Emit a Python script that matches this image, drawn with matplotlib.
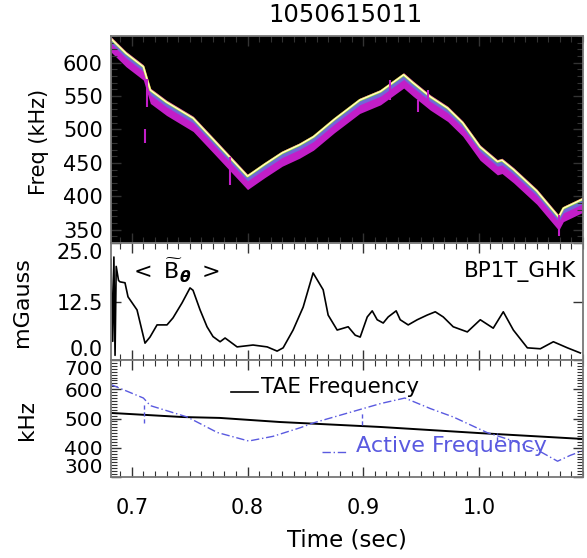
import matplotlib.pyplot as plt
import numpy as np
from matplotlib.ticker import MultipleLocator

plt.rcParams['font.family'] = 'DejaVu Sans'
plt.rcParams['mathtext.fontset'] = 'dejavusans'

shot = '1050615011'

# mode frequency trace seen in the spectrogram (upper edge of the band)
trace_t = [0.682, 0.695, 0.710, 0.716, 0.730, 0.753, 0.772, 0.800, 0.815, 0.830,
           0.845, 0.857, 0.875, 0.897, 0.915, 0.935, 0.943, 0.958, 0.973, 0.986,
           1.001, 1.016, 1.020, 1.030, 1.050, 1.069, 1.073, 1.090]
trace_khz = [636, 614, 594, 559, 541, 517, 482, 430, 448, 465,
             477, 489, 515, 544, 557, 582, 570, 549, 532, 510,
             474, 452, 454, 440, 408, 369, 382, 396]

# isolated streaks in the spectrogram
streak_t = [0.711, 0.713, 0.785, 0.923, 0.947, 0.956, 1.069]
streak_lo = [480, 534, 417, 544, 526, 540, 340]
streak_hi = [500, 575, 459, 574, 544, 559, 372]

# BP1T_GHK fluctuation amplitude
amp_t = [0.682, 0.6835, 0.6845, 0.6855, 0.6865, 0.6885, 0.6898, 0.6941, 0.6967, 0.7045,
         0.7114, 0.7157, 0.7218, 0.7304, 0.7356, 0.7434, 0.7503, 0.7529, 0.759, 0.765,
         0.7702, 0.7763, 0.7806, 0.785, 0.791, 0.8048, 0.817, 0.8256, 0.8308, 0.8394,
         0.8481, 0.8567, 0.8654, 0.8697, 0.8775, 0.887, 0.8931, 0.8974, 0.9035, 0.9078,
         0.9121, 0.9173, 0.9216, 0.9285, 0.932, 0.9389, 0.9467, 0.9553, 0.9623, 0.9692,
         0.9778, 0.990, 1.0012, 1.0124, 1.0211, 1.0298, 1.0419, 1.0531, 1.0644, 1.0765,
         1.0877]
amp_mg = [21.5, 4.0, 22.0, 1.0, 20.0, 17.0, 16.7, 16.5, 13.5, 10.7,
          3.6, 4.9, 7.5, 7.5, 9.0, 12.2, 15.4, 14.9, 10.7, 7.1,
          5.0, 3.9, 4.7, 3.9, 2.8, 3.2, 2.8, 1.9, 2.6, 6.4,
          11.3, 18.6, 15.0, 9.6, 6.4, 7.1, 5.3, 4.9, 9.2, 10.5,
          8.6, 7.9, 9.2, 10.5, 8.6, 7.5, 8.6, 9.6, 10.3, 9.2,
          7.1, 6.0, 8.6, 6.8, 10.3, 6.4, 2.6, 2.4, 3.9, 2.6,
          1.5]

# TAE frequency and measured (active) frequency
tae_t = [0.682, 0.744, 0.776, 0.828, 0.915, 1.001, 1.059, 1.090]
tae_khz = [519, 505, 502, 488, 471, 450, 437, 430]

act_t = [0.682, 0.710, 0.716, 0.748, 0.774, 0.801, 0.822, 0.846, 0.857, 0.886,
         0.915, 0.936, 0.958, 0.978, 1.007, 1.030, 1.053, 1.068, 1.079, 1.090]
act_khz = [616, 570, 544, 505, 452, 423, 439, 469, 485, 518,
           551, 570, 534, 505, 452, 423, 387, 354, 374, 390]
act_spike_t = [0.7106, 0.899, 1.016]
act_spike_lo = [485, 479, 423]
act_spike_hi = [551, 521, 452]

W, H = 587, 558
fig = plt.figure(figsize=(W / 100, H / 100), dpi=100)

def box(x0, y0, x1, y1):
    return [x0 / W, 1 - y1 / H, (x1 - x0) / W, (y1 - y0) / H]

ax1 = fig.add_axes(box(111, 36, 583, 243))
ax2 = fig.add_axes(box(111, 243, 583, 360))
ax3 = fig.add_axes(box(111, 360, 583, 477))

spine_col = '#777777'
for ax in (ax1, ax2, ax3):
    ax.set_xlim(0.682, 1.09)
    ax.xaxis.set_major_locator(MultipleLocator(0.1))
    ax.xaxis.set_minor_locator(MultipleLocator(0.01))
    ax.tick_params(which='both', direction='in', top=True, right=True,
                   labelsize=15, color='#333333')
    ax.tick_params(which='major', length=7, width=1)
    ax.tick_params(which='minor', length=4, width=0.8)
    for s in ax.spines.values():
        s.set_color(spine_col)
        s.set_linewidth(1.3)

# spectrogram panel
t = np.array(trace_t)
f = np.array(trace_khz)
ax1.set_facecolor('black')
ax1.fill_between(t, f - 20, f + 3, color='#c21ec8', lw=0)
ax1.fill_between(t, f - 7, f + 1, color='#7464d8', lw=0)
ax1.plot(t, f - 2, color='#40a8a0', lw=0.8)
ax1.plot(t, f, color='#f0f040', lw=1.6)
ax1.plot(t, f, color='white', lw=0.6)
ax1.vlines(streak_t, streak_lo, streak_hi, color='#c21ec8', lw=1.5)
ax1.set_ylim(330, 640)
ax1.set_yticks([350, 400, 450, 500, 550, 600])
ax1.yaxis.set_minor_locator(MultipleLocator(10))
ax1.tick_params(labelbottom=False, pad=6)

# amplitude panel
ax2.plot(amp_t, amp_mg, color='black', lw=1.2)
ax2.set_ylim(0, 25)
ax2.set_yticks([0, 12.5, 25])
ax2.set_yticklabels(['0.0', '12.5', '25.0'])
ax2.tick_params(labelbottom=False, pad=6)
labs = ax2.get_yticklabels()
labs[0].set_va('bottom')
labs[2].set_va('top')
ax2.text(0.039, 0.76, r'$<\ \widetilde{\mathrm{B}}_{\boldsymbol{\theta}}\ >$',
         transform=ax2.transAxes, fontsize=16, va='center', ha='left')
ax2.text(0.985, 0.76, 'BP1T_GHK', transform=ax2.transAxes, fontsize=15.5,
         va='center', ha='right')

# frequency comparison panel
blue = '#5a5ae0'
ax3.plot(tae_t, tae_khz, color='black', lw=1.4)
ax3.plot(act_t, act_khz, color=blue, lw=1.0, ls=(0, (6, 2, 1, 2)))
ax3.vlines(act_spike_t, act_spike_lo, act_spike_hi, color=blue, lw=1.0,
           linestyles=(0, (3, 2)))
ax3.set_ylim(300, 700)
ax3.set_yticks([300, 400, 500, 600, 700])
ax3.yaxis.set_minor_locator(MultipleLocator(10))
ax3.tick_params(axis='y', pad=6, labelsize=14.5)
ax3.tick_params(axis='x', pad=15)
labs = ax3.get_yticklabels()
labs[0].set_va('bottom')
labs[-1].set_va('top')
ax3.xaxis.set_major_formatter(plt.FuncFormatter(lambda v, p: f'{v:.1f}'))
ax3.set_xlabel('Time (sec)', fontsize=16.5, labelpad=8)

ax3.plot([0.786, 0.809], [592, 592], color='black', lw=1.2)
ax3.text(0.812, 607, 'TAE Frequency', fontsize=15.5, va='center', ha='left')
ax3.plot([0.864, 0.887], [385, 385], color=blue, lw=1.0, ls=(0, (6, 2, 1, 2)))
ax3.text(0.894, 405, 'Active Frequency', fontsize=16, va='center', ha='left',
         color=blue)

# titles and axis labels
fig.text(345 / W, 1 - 15 / H, shot, fontsize=17.5, ha='center', va='center')
fig.text(39 / W, 1 - 142 / H, 'Freq (kHz)', fontsize=15, rotation=90,
         ha='center', va='center')
fig.text(22 / W, 1 - 302 / H, 'mGauss', fontsize=16, rotation=90,
         ha='center', va='center')
fig.text(27 / W, 1 - 420 / H, 'kHz', fontsize=15.5, rotation=90,
         ha='center', va='center')

fig.savefig('out.png', dpi=100)
